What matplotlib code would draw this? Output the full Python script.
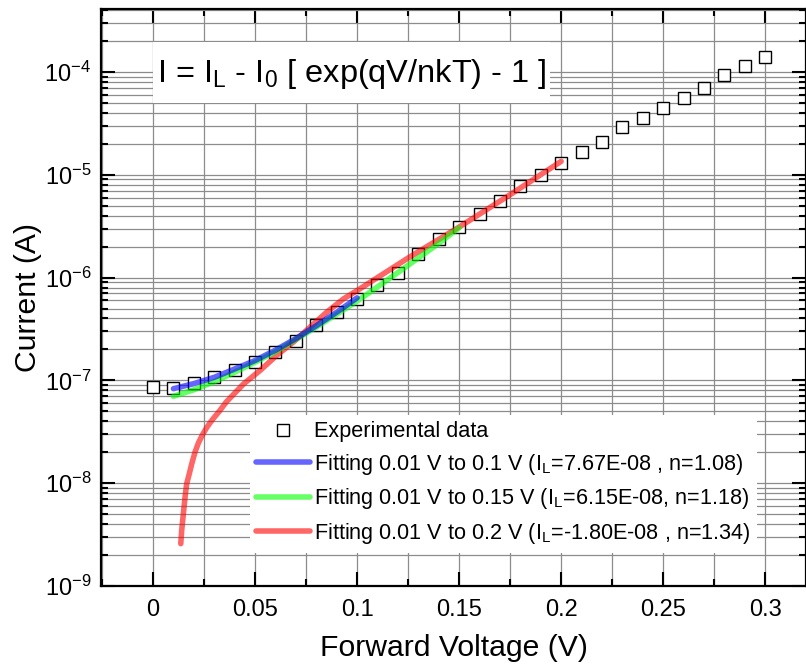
import numpy as np
import matplotlib
matplotlib.use("Agg")
import matplotlib.pyplot as plt
from matplotlib.ticker import MultipleLocator, LogLocator, LogFormatterMathtext, NullFormatter
from matplotlib.patches import Rectangle

plt.rcParams['font.family'] = ['Liberation Sans', 'DejaVu Sans']
plt.rcParams['mathtext.fontset'] = 'custom'
plt.rcParams['mathtext.rm'] = 'Liberation Sans'
plt.rcParams['mathtext.it'] = 'Liberation Sans:italic'
plt.rcParams['mathtext.bf'] = 'Liberation Sans:bold'

v_exp = [0.00, 0.01, 0.02, 0.03, 0.04, 0.05, 0.06, 0.07, 0.08, 0.09,
         0.10, 0.11, 0.12, 0.13, 0.14, 0.15, 0.16, 0.17, 0.18, 0.19,
         0.20, 0.21, 0.22, 0.23, 0.24, 0.25, 0.26, 0.27, 0.28, 0.29, 0.30]
i_exp = [8.6e-8, 8.5e-8, 9.4e-8, 1.08e-7, 1.27e-7, 1.5e-7, 1.88e-7, 2.42e-7, 3.42e-7, 4.6e-7,
         6.2e-7, 8.4e-7, 1.12e-6, 1.71e-6, 2.35e-6, 3.1e-6, 4.15e-6, 5.5e-6, 7.8e-6, 1.0e-5,
         1.3e-5, 1.66e-5, 2.1e-5, 2.9e-5, 3.6e-5, 4.5e-5, 5.6e-5, 7.0e-5, 9.3e-5, 1.14e-4, 1.41e-4]

# Fit 0.01 V bis 0.1 V
v_fit1 = [0.01, 0.02, 0.03, 0.04, 0.05, 0.06, 0.07, 0.08, 0.09, 0.10]
i_fit1 = [8.3e-8, 9.3e-8, 1.07e-7, 1.29e-7, 1.56e-7, 1.97e-7, 2.55e-7, 3.4e-7, 4.6e-7, 6.35e-7]

# Fit 0.01 V bis 0.15 V
v_fit2 = [0.01, 0.02, 0.03, 0.04, 0.05, 0.06, 0.07, 0.08, 0.09, 0.10,
          0.11, 0.12, 0.13, 0.14, 0.15]
i_fit2 = [7.0e-8, 8.1e-8, 9.7e-8, 1.2e-7, 1.5e-7, 1.9e-7, 2.5e-7, 3.3e-7, 4.4e-7, 5.9e-7,
          8.1e-7, 1.12e-6, 1.55e-6, 2.15e-6, 3.05e-6]

# Fit 0.01 V bis 0.2 V
v_fit3 = [0.0136, 0.01405, 0.01454, 0.0152, 0.0157, 0.0165, 0.0178, 0.019, 0.0206, 0.0222,
          0.024, 0.0262, 0.0288, 0.0328, 0.036, 0.0443, 0.0525, 0.0606, 0.0688, 0.077,
          0.0851, 0.0933, 0.1015, 0.125, 0.15, 0.175, 0.20]
i_fit3 = [2.58e-9, 3.47e-9, 4.35e-9, 5.86e-9, 7.33e-9, 9.9e-9, 1.24e-8, 1.55e-8, 2.01e-8, 2.45e-8,
          2.9e-8, 3.45e-8, 4.08e-8, 5.1e-8, 6.2e-8, 9.2e-8, 1.25e-7, 1.75e-7, 2.36e-7, 3.3e-7,
          4.6e-7, 6.2e-7, 7.8e-7, 1.55e-6, 3.1e-6, 6.4e-6, 1.35e-5]

x_ticks = [0, 0.05, 0.1, 0.15, 0.2, 0.25, 0.3]
x_ticklabels = ['0', '0.05', '0.1', '0.15', '0.2', '0.25', '0.3']
y_ticks = [1e-9, 1e-8, 1e-7, 1e-6, 1e-5, 1e-4]

labels = ['Experimental data',
          r'Fitting 0.01 V to 0.1 V (I$_\mathregular{L}$=7.67E-08 , n=1.08)',
          r'Fitting 0.01 V to 0.15 V (I$_\mathregular{L}$=6.15E-08, n=1.18)',
          r'Fitting 0.01 V to 0.2 V (I$_\mathregular{L}$=-1.80E-08 , n=1.34)']
equation = r'I = I$_\mathregular{L}$ - I$_\mathregular{0}$ [ exp(qV/nkT) - 1 ]'

fig = plt.figure(figsize=(8.06, 6.69), dpi=100)
ax = fig.add_axes([0.1253, 0.1241, 0.8747, 0.8625])

ax.plot(v_exp, i_exp, 's', ms=9, mfc='white', mec='black', mew=1.0, zorder=2.5, label=labels[0])
ax.plot(v_fit1, i_fit1, '-', color='#0000ff', alpha=0.6, lw=4, solid_capstyle='round', zorder=5, label=labels[1])
ax.plot(v_fit2, i_fit2, '-', color='#00ff00', alpha=0.6, lw=4, solid_capstyle='round', zorder=4, label=labels[2])
ax.plot(v_fit3, i_fit3, '-', color='#ff0000', alpha=0.6, lw=4, solid_capstyle='round', zorder=3, label=labels[3])

ax.set_yscale('log')
ax.set_xlim(-0.0255, 0.32)
ax.set_ylim(1e-9, 4.1e-4)

ax.xaxis.set_minor_locator(MultipleLocator(0.025))
ax.set_xticks(x_ticks)
ax.set_xticklabels(x_ticklabels)
ax.set_yticks(y_ticks)
ax.yaxis.set_major_formatter(LogFormatterMathtext())
ax.yaxis.set_minor_locator(LogLocator(base=10, subs=np.arange(2, 10), numticks=20))
ax.yaxis.set_minor_formatter(NullFormatter())

ax.tick_params(which='both', direction='in', top=True, right=True, width=1.5, labelsize=17)
ax.tick_params(which='major', length=10)
ax.tick_params(which='minor', length=5)
ax.tick_params(axis='x', which='major', pad=9.5)
ax.tick_params(axis='y', which='major', pad=7)

ax.grid(True, which='both', color='#8c8c8c', lw=0.9)
ax.set_axisbelow(True)
for sp in ax.spines.values():
    sp.set_linewidth(1.6)

ax.set_xlabel('Forward Voltage (V)', fontsize=21.7, labelpad=9)
ax.set_ylabel('Current (A)', fontsize=21.7, labelpad=2)

# weisser Kasten hinter der Formel
ax.add_patch(Rectangle((0.0738, 0.837), 0.563, 0.106, transform=ax.transAxes,
                       facecolor='white', edgecolor='none', zorder=1))
ax.text(0.355, 0.887, equation, transform=ax.transAxes, fontsize=23.4,
        ha='center', va='center', zorder=6)

leg = ax.legend(loc='lower right', bbox_to_anchor=(0.9305, 0.058), borderaxespad=0,
                fontsize=15.6, frameon=True, fancybox=False, framealpha=1,
                edgecolor='none', facecolor='white', handlelength=2.45,
                handletextpad=0.2, labelspacing=0.44, borderpad=0.3)
leg.set_zorder(7)

fig.savefig('out.png', dpi=100)
